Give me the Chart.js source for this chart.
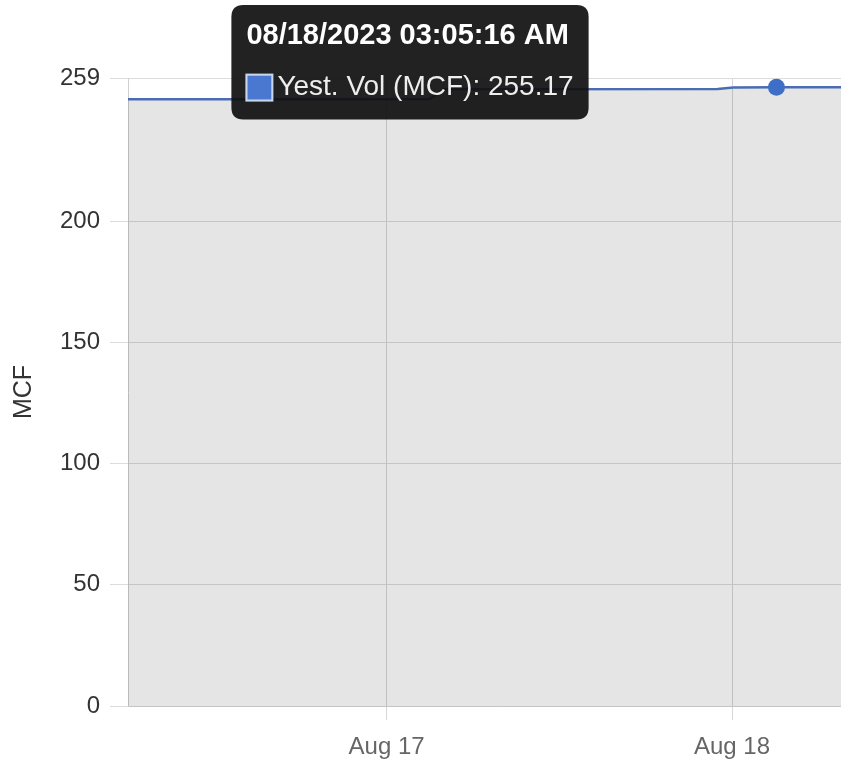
<!DOCTYPE html>
<html>
<head>
<meta charset="utf-8">
<script src="https://cdn.jsdelivr.net/npm/chart.js@4.4.0/dist/chart.umd.min.js"></script>
<style>
    html, body { margin: 0; padding: 0; background: #fff; overflow: hidden; }
    canvas { display: block; }
</style>
</head>
<body>
<canvas id="volChart" width="870" height="765"></canvas>
<script>
// readings (UTC) and yesterday's volume in MCF
const times = [
    '2023-08-16T06:02:00Z',
    '2023-08-16T18:00:00Z',
    '2023-08-17T03:00:00Z',
    '2023-08-17T04:00:00Z',
    '2023-08-17T23:00:00Z',
    '2023-08-18T00:05:00Z',
    '2023-08-18T03:05:16Z',
    '2023-08-18T09:30:00Z'
];
const volumes = [250.2, 250.2, 250.3, 254.4, 254.5, 255.1, 255.17, 255.17];

const yTicks = [0, 50, 100, 150, 200, 259];
const xTicks = ['2023-08-17T00:00:00Z', '2023-08-18T00:00:00Z'];
const xRange = ['2023-08-16T06:02:00Z', '2023-08-18T09:30:00Z']; // canvas runs past the window edge
const activeIndex = 6; // the reading shown in the tooltip

const MONTHS = ['Jan', 'Feb', 'Mar', 'Apr', 'May', 'Jun', 'Jul', 'Aug', 'Sep', 'Oct', 'Nov', 'Dec'];
const pad = n => String(n).padStart(2, '0');

// format like 08/18/2023 03:05:16 AM
const fullStamp = ms => {
    const d = new Date(ms);
    let h = d.getUTCHours();
    const ampm = h < 12 ? 'AM' : 'PM';
    h = h % 12 || 12;
    return pad(d.getUTCMonth() + 1) + '/' + pad(d.getUTCDate()) + '/' + d.getUTCFullYear() + ' ' +
        pad(h) + ':' + pad(d.getUTCMinutes()) + ':' + pad(d.getUTCSeconds()) + ' ' + ampm;
};

Chart.defaults.font.family = '"Liberation Sans", Arial, Helvetica, sans-serif';

// tooltip sits up top, away from the point
Chart.Tooltip.positioners.topFixed = function () {
    return { x: 410, y: 5 };
};

const ctx = document.getElementById('volChart').getContext('2d');
const chart = new Chart(ctx, {
    type: 'line',
    data: {
        datasets: [{
            label: 'Yest. Vol (MCF)',
            data: times.map((t, i) => ({ x: Date.parse(t), y: volumes[i] })),
            borderColor: '#4a6cb3',
            borderWidth: 2.5,
            backgroundColor: 'rgba(0, 0, 0, 0.1)',
            fill: 'origin',
            tension: 0,
            pointRadius: 0,
            pointHoverRadius: 8.5,
            pointHoverBorderWidth: 0,
            pointHoverBackgroundColor: '#3f6ec6'
        }]
    },
    options: {
        responsive: false,
        animation: false,
        events: [],
        layout: { padding: { top: 78, right: 0, left: 0, bottom: 0 } },
        plugins: {
            legend: { display: false },
            tooltip: {
                position: 'topFixed',
                xAlign: 'center',
                yAlign: 'top',
                caretSize: 0,
                caretPadding: 0,
                backgroundColor: 'rgba(15, 15, 15, 0.92)',
                cornerRadius: 12,
                padding: { top: 14, bottom: 15, left: 15, right: 15 },
                titleFont: { size: 29, weight: 'bold' },
                titleMarginBottom: 17,
                titleColor: '#fff',
                bodyFont: { size: 28 },
                bodyColor: '#eee',
                boxWidth: 26,
                boxHeight: 26,
                boxPadding: 3,
                callbacks: {
                    title: items => fullStamp(items[0].parsed.x),
                    label: item => item.dataset.label + ': ' + item.parsed.y.toFixed(2),
                    labelColor: () => ({ borderColor: '#c9d5ef', backgroundColor: '#4a78d0', borderWidth: 2 })
                }
            }
        },
        scales: {
            x: {
                type: 'linear',
                min: Date.parse(xRange[0]),
                max: Date.parse(xRange[1]),
                afterBuildTicks: axis => {
                    axis.ticks = xTicks.map(t => ({ value: Date.parse(t) }));
                },
                afterFit: axis => { axis.height = 59; },
                grid: { color: '#d6d6d6', tickLength: 14 },
                border: { color: '#c4c4c4' },
                ticks: {
                    color: '#666',
                    font: { size: 24 },
                    padding: 13,
                    maxRotation: 0,
                    callback: v => {
                        const d = new Date(v);
                        return MONTHS[d.getUTCMonth()] + ' ' + d.getUTCDate();
                    }
                }
            },
            y: {
                min: 0,
                max: 259,
                afterBuildTicks: axis => {
                    axis.ticks = yTicks.map(v => ({ value: v }));
                },
                afterFit: axis => { axis.width = 128; },
                grid: { color: '#dcdcdc', tickLength: 18 },
                border: { color: '#d0d0d0' },
                ticks: { color: '#333', font: { size: 24 }, padding: 10 },
                title: {
                    display: true,
                    text: 'MCF',
                    color: '#333',
                    font: { size: 25 },
                    padding: { top: 9, bottom: 4 }
                }
            }
        }
    }
});

// show the hovered reading like the screenshot
const active = [{ datasetIndex: 0, index: activeIndex }];
chart.setActiveElements(active);
chart.tooltip.setActiveElements(active, { x: 0, y: 0 });
chart.update();
</script>
</body>
</html>
